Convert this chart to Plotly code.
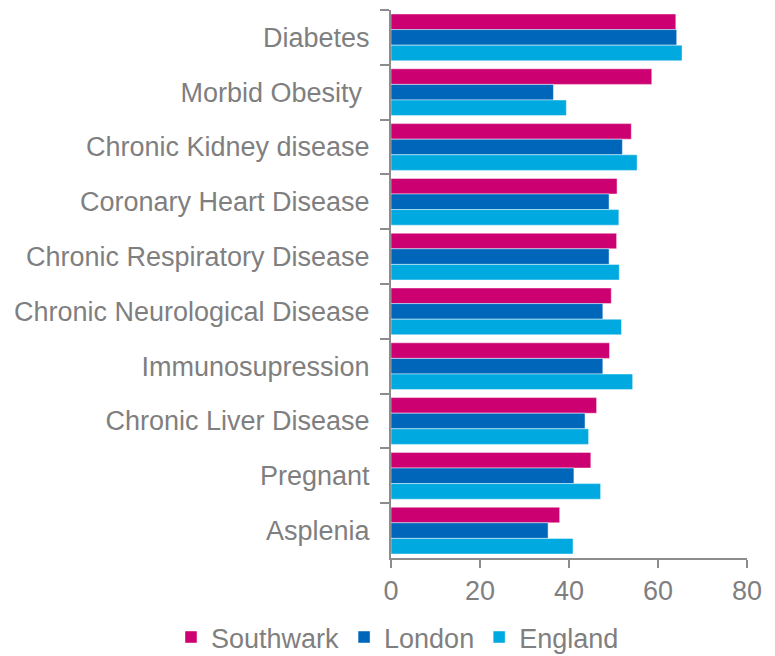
import plotly.graph_objects as go

categories = [
    "Diabetes",
    "Morbid Obesity ",
    "Chronic Kidney disease",
    "Coronary Heart Disease",
    "Chronic Respiratory Disease",
    "Chronic Neurological Disease",
    "Immunosupression",
    "Chronic Liver Disease",
    "Pregnant",
    "Asplenia",
]
southwark = [64.0, 58.6, 54.0, 50.8, 50.7, 49.5, 49.1, 46.2, 44.9, 37.9]
london = [64.2, 36.5, 52.0, 49.0, 49.0, 47.6, 47.6, 43.6, 41.1, 35.3]
england = [65.4, 39.4, 55.3, 51.2, 51.3, 51.8, 54.3, 44.4, 47.1, 40.9]

series = [
    ("Southwark", southwark, "#CC0070"),
    ("London", london, "#0066BA"),
    ("England", england, "#00A9E0"),
]

GREY = "#7f7f7f"
AXIS = "#8c8c8c"
FONT = "Liberation Sans, Arial, sans-serif"

fig = go.Figure()
for name, vals, col in series:
    fig.add_trace(
        go.Bar(
            y=categories,
            x=vals,
            name=name,
            orientation="h",
            marker=dict(color=col, line=dict(color="rgba(255,255,255,0.45)", width=1)),
        )
    )

fig.update_layout(
    width=775,
    height=656,
    margin=dict(l=383, r=36, t=2, b=104),
    plot_bgcolor="white",
    paper_bgcolor="white",
    barmode="group",
    bargap=0.146,
    bargroupgap=0,
    font=dict(family=FONT, size=27, color=GREY),
    legend=dict(
        orientation="h",
        x=-0.618,
        xanchor="left",
        y=-0.145,
        yanchor="middle",
        font=dict(size=27, color=GREY),
        itemwidth=30,
        traceorder="normal",
    ),
    xaxis=dict(
        range=[0, 80],
        tickvals=[0, 20, 40, 60, 80],
        showgrid=False,
        zeroline=False,
        showline=True,
        linecolor=AXIS,
        linewidth=2,
        ticks="outside",
        ticklen=8,
        tickwidth=2,
        tickcolor=AXIS,
        tickfont=dict(size=27, color=GREY),
    ),
    yaxis=dict(
        autorange="reversed",
        showgrid=False,
        showline=True,
        linecolor=AXIS,
        linewidth=2,
        ticks="outside",
        tickson="boundaries",
        ticklen=9,
        tickwidth=2,
        tickcolor=AXIS,
        ticklabelstandoff=14,
        tickfont=dict(size=27, color=GREY),
    ),
)

fig.write_html("out.html")
